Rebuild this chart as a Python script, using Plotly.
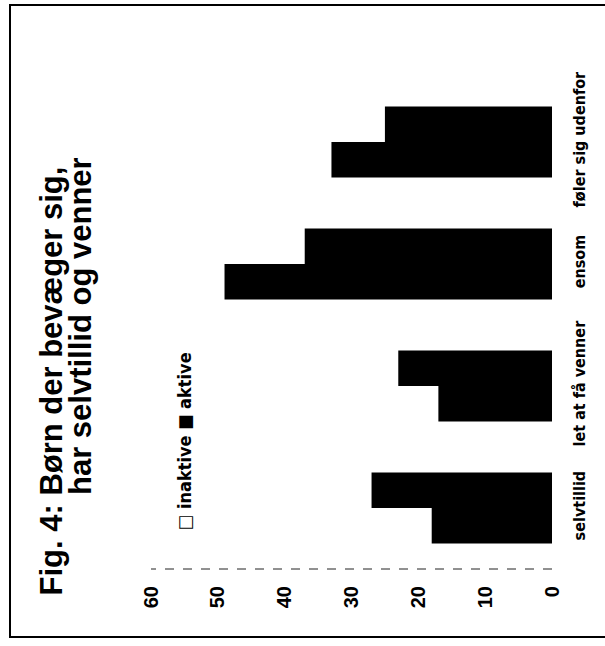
import plotly.graph_objects as go

categories = ["selvtillid", "let at få venner", "ensom", "føler sig udenfor"]
inaktive = [18, 17, 49, 33]
aktive = [27, 23, 37, 25]
value_ticks = [0, 10, 20, 30, 40, 50, 60]

title_line1 = "Fig. 4: Børn der bevæger sig,"
title_line2 = "har selvtillid og venner"
legend_text = "□ inaktive ■ aktive"

W, H = 605, 646
L, R, T, B = 151, 53, 81, 77
pw, ph = W - L - R, H - T - B

def px_x(px):
    return (px - L) / pw

def px_y(py):
    return (H - B - py) / ph

lab_font = "DejaVu Sans Condensed, Liberation Sans Narrow, Arial Narrow, sans-serif"
title_font = "Liberation Sans, Arial, sans-serif"

fig = go.Figure()
fig.add_trace(go.Bar(y=categories, x=inaktive, orientation="h", name="inaktive",
                     marker=dict(color="#000000", line=dict(width=0)), showlegend=False))
fig.add_trace(go.Bar(y=categories, x=aktive, orientation="h", name="aktive",
                     marker=dict(color="#000000", line=dict(width=0)), showlegend=False))

fig.update_layout(
    width=W, height=H,
    margin=dict(l=L, r=R, t=T, b=B),
    paper_bgcolor="white", plot_bgcolor="white",
    barmode="group", bargap=0.42, bargroupgap=0.0,
    font=dict(family=lab_font, color="black"),
    xaxis=dict(range=[max(value_ticks), 0], tickvals=value_ticks, ticktext=[str(v) for v in value_ticks],
               tickangle=-90, showgrid=False, zeroline=False, showline=False,
               ticks="", ticklabelstandoff=12,
               tickfont=dict(family=title_font, size=20, color="black", weight="bold")),
    yaxis=dict(categoryorder="array", categoryarray=categories, range=[-0.5, 3.5],
               side="right", tickangle=-90, showgrid=False, zeroline=False, showline=False,
               ticks="", ticklabelstandoff=16,
               tickfont=dict(family=lab_font, size=16, color="black", weight="bold")),
)

# dashed value-axis line along the bottom of the plot area
fig.add_shape(type="line", xref="x", yref="paper", x0=0, x1=max(value_ticks), y0=0, y1=0,
              line=dict(color="#222222", width=1, dash="dash"))

# outer frame
fig.add_shape(type="rect", xref="paper", yref="paper",
              x0=px_x(10), x1=px_x(607), y0=px_y(637), y1=px_y(5),
              line=dict(color="black", width=2), fillcolor="rgba(0,0,0,0)")

fig.add_annotation(text="<b>" + title_line1 + "</b>", textangle=-90, showarrow=False,
                   xref="paper", yref="paper", x=px_x(51), y=px_y(598),
                   xanchor="center", yanchor="bottom",
                   font=dict(family=title_font, size=31, color="black"))
fig.add_annotation(text="<b>" + title_line2 + "</b>", textangle=-90, showarrow=False,
                   xref="paper", yref="paper", x=px_x(80), y=px_y(497),
                   xanchor="center", yanchor="bottom",
                   font=dict(family=title_font, size=31, color="black"))

fig.add_annotation(text="<b>" + legend_text + "</b>", textangle=-90, showarrow=False,
                   xref="paper", yref="paper", x=px_x(185), y=px_y(441),
                   xanchor="center", yanchor="middle",
                   font=dict(family=lab_font, size=18, color="black"))

fig.write_html("out.html")
